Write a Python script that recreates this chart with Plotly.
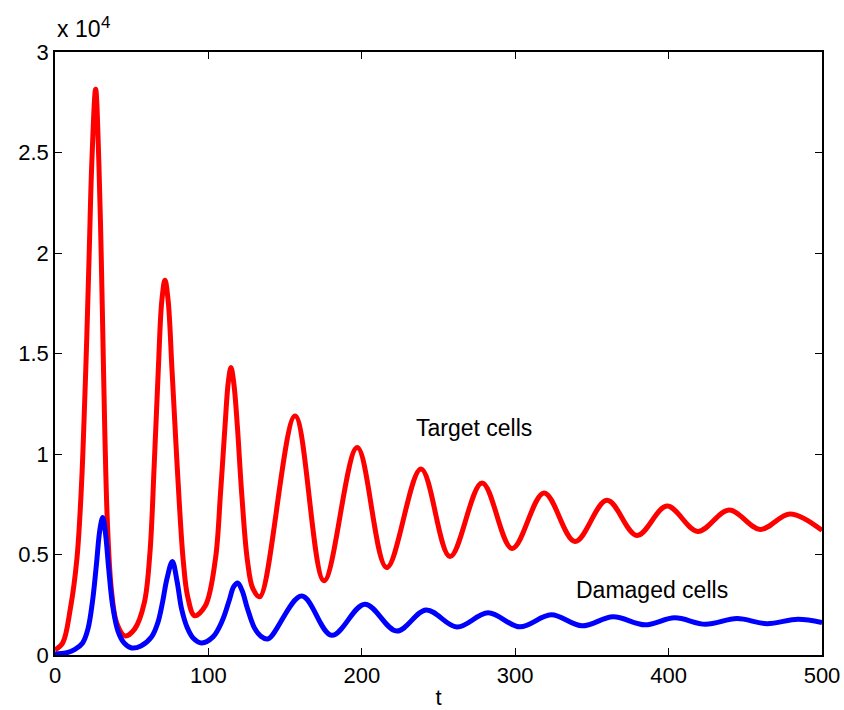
import plotly.graph_objects as go

# Target cells (red)
target_t = [0, 5, 10, 14.3, 17.3, 19.3, 20.8, 22.3, 24.0, 26.5, 28.6, 30.1, 31.3, 32.5, 34.2, 36.7, 40.2, 45.6,
            52, 58.2, 61.9, 64.7, 67.4, 69.6, 71.7, 73.8, 76.2, 78.5, 81, 83.6, 86.5, 91.0,
            98, 104.5, 107.9, 110.8, 113, 114.7, 116.6, 118.9, 121.7, 125.4, 129, 133.6,
            156.5, 175.4, 197.0, 216.2, 238.6, 257.5, 278.4, 298, 318.8, 339, 359.8, 379.4,
            398.9, 419, 439.4, 459.6, 479.2, 500]
target_y = [250, 600, 2300, 4800, 8500, 12500, 16000, 20000, 24500, 28150, 24500, 20000, 15500, 11000, 6500, 3300, 1600, 950,
            1300, 2590, 5090, 9500, 14300, 17600, 18650, 17600, 14300, 11000, 7600, 4700, 2900, 1950,
            2450, 4726, 8045, 11360, 13600, 14300, 13500, 11360, 8045, 4726, 3300, 2900,
            11890, 3700, 10320, 4350, 9250, 4900, 8560, 5300, 8060, 5650, 7700, 5950,
            7410, 6150, 7210, 6250, 7020, 6200]

# Damaged cells (blue)
damaged_t = [0, 7, 13, 18, 21.5, 24.5, 27, 29.2, 31.1, 33, 35, 37.5, 41, 45, 50, 56,
             63, 67, 70, 73, 76.5, 79.5, 82.5, 86, 90, 95.6,
             103, 109, 113.5, 116.5, 119.1, 122, 125.5, 130, 134, 138.9,
             160.8, 180.4, 202, 222.7, 241.9, 262, 282.3, 303, 323.4, 343.5, 363.8,
             384.6, 404, 424, 444.6, 464, 484.4, 500]
damaged_y = [50, 100, 280, 600, 1300, 2700, 4500, 6200, 6840, 6000, 4300, 2500, 1200, 600, 350, 450,
             911, 1600, 2587, 3800, 4650, 3700, 2300, 1400, 850, 600,
             900, 1700, 2700, 3400, 3580, 3200, 2300, 1350, 950, 800,
             2935, 980, 2527, 1190, 2240, 1390, 2100, 1400, 2000, 1450, 1900,
             1500, 1850, 1530, 1810, 1560, 1780, 1620]

x_ticks = [0, 100, 200, 300, 400, 500]
y_tickvals = [0, 5000, 10000, 15000, 20000, 25000, 30000]
y_ticktext = ["0", "0.5", "1", "1.5", "2", "2.5", "3"]

FONT = "Liberation Sans, Arial, Helvetica, sans-serif"

fig = go.Figure()
fig.add_trace(go.Scatter(x=target_t, y=target_y, mode="lines",
                         line=dict(color="#ff0000", width=5, shape="spline", smoothing=1.0),
                         showlegend=False))
fig.add_trace(go.Scatter(x=damaged_t, y=damaged_y, mode="lines",
                         line=dict(color="#0000ff", width=5, shape="spline", smoothing=1.0),
                         showlegend=False))

axis_common = dict(showline=True, linecolor="black", linewidth=1.5, mirror="allticks",
                   ticks="inside", ticklen=7, tickcolor="black", tickwidth=1,
                   showgrid=False, zeroline=False, automargin=False,
                   tickfont=dict(family=FONT, size=22, color="black"))

fig.update_xaxes(range=[0, 500], tickvals=x_ticks, **axis_common,
                 title=dict(text="t", font=dict(family=FONT, size=22, color="black"), standoff=6))
fig.update_yaxes(range=[0, 30000], tickvals=y_tickvals, ticktext=y_ticktext, **axis_common)

fig.add_annotation(text="x 10", xref="paper", yref="paper", x=0, y=1,
                   xanchor="left", yanchor="bottom", yshift=8, showarrow=False,
                   font=dict(family=FONT, size=23, color="black"))
fig.add_annotation(text="4", xref="paper", yref="paper", x=0, y=1,
                   xanchor="left", yanchor="bottom", xshift=44, yshift=18, showarrow=False,
                   font=dict(family=FONT, size=17, color="black"))
fig.add_annotation(text="Target cells", x=234.0, y=11270, xanchor="left", yanchor="middle",
                   showarrow=False, font=dict(family=FONT, size=23, color="black"))
fig.add_annotation(text="Damaged cells", x=338.5, y=3234, xanchor="left", yanchor="middle",
                   showarrow=False, font=dict(family=FONT, size=23, color="black"))

fig.update_layout(width=844, height=710, margin=dict(l=55, r=22, t=52, b=55, autoexpand=False),
                  paper_bgcolor="white", plot_bgcolor="white",
                  font=dict(family=FONT, size=22, color="black"))

fig.write_html("out.html")
